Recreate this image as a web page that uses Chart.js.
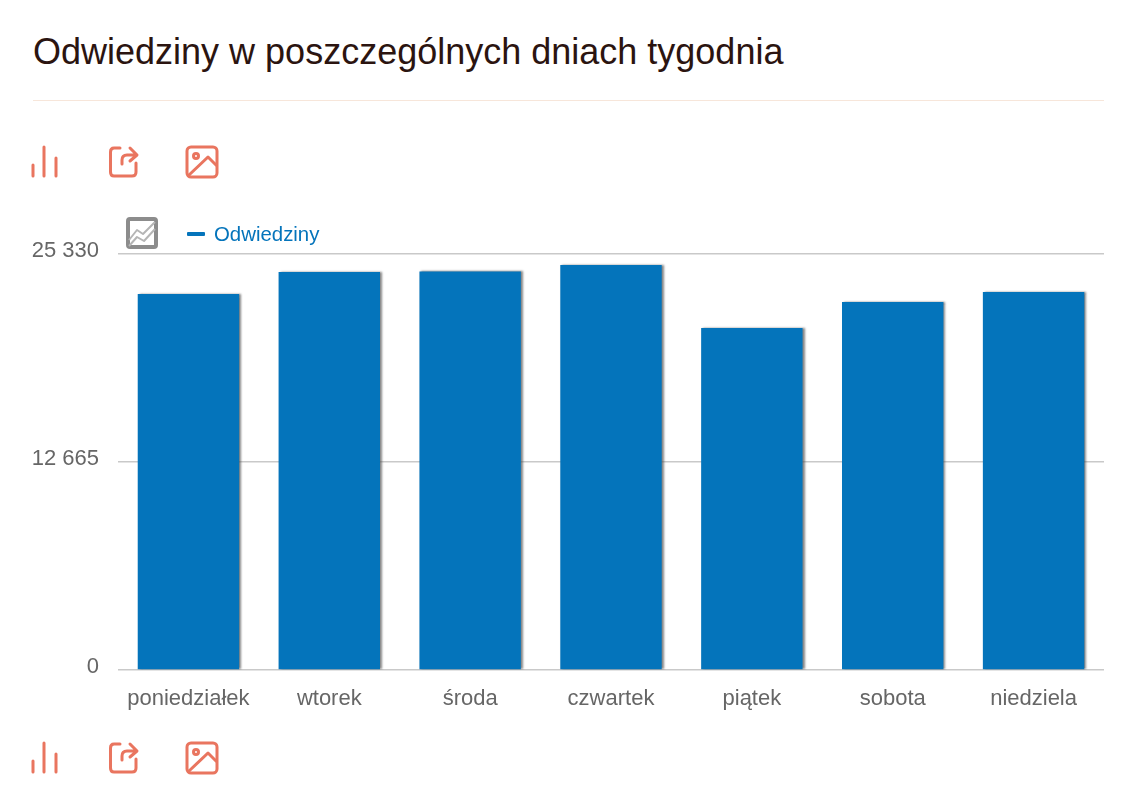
<!DOCTYPE html>
<html lang="pl">
<head>
<meta charset="utf-8">
<title>Odwiedziny w poszczególnych dniach tygodnia</title>
<script src="https://cdn.jsdelivr.net/npm/chart.js@4"></script>
<style>
  html, body { margin: 0; padding: 0; background: #fff; }
  body { width: 1134px; height: 796px; position: relative; overflow: hidden; font-family: "Liberation Sans", Arial, sans-serif; }
  h1 { position: absolute; left: 33px; top: 31px; margin: 0; font-size: 36px; line-height: 42px; font-weight: normal; color: #2b1410; white-space: nowrap; }
  .rule { position: absolute; left: 33px; top: 100px; width: 1071px; height: 1px; background: #f7e6da; }
  canvas { position: absolute; left: 0; top: 0; }
  .icons { position: absolute; left: 0; width: 240px; height: 40px; }
  .icons svg { position: absolute; left: 0; top: 0; fill: none; stroke: #e9755f; stroke-width: 3; stroke-linecap: round; stroke-linejoin: round; }
  .switch { position: absolute; left: 125px; top: 216px; fill: none; stroke: #8c8c8c; stroke-linejoin: round; }
  .legend { position: absolute; left: 187px; top: 222px; color: #0474bb; font-size: 20.400px; line-height: 24px; white-space: nowrap; }
  .legend i { display: inline-block; width: 18px; height: 4px; background: #0474bb; border-radius: 1px; vertical-align: 5px; margin-right: 9px; }
</style>
</head>
<body>
<h1>Odwiedziny w poszczególnych dniach tygodnia</h1>
<div class="rule"></div>

<div class="icons" style="top:141px">
  <svg width="240" height="40" viewBox="0 0 240 40">
    <path d="M33 24V35M44 6V35M56 17V35"/>
    <path d="M120 7H114Q110.500 7 110.500 11V31Q110.500 35 114 35H132Q136 35 136 31V22"/>
    <path d="M122 23V19Q122 14 127 14H136M130 7L137 14L130 20"/>
    <rect x="187" y="6" width="30" height="30" rx="4"/>
    <circle cx="196" cy="15" r="2.500"/>
    <path d="M189 34L208 16L216 24"/>
  </svg>
</div>
<div class="icons" style="top:737px">
  <svg width="240" height="40" viewBox="0 0 240 40">
    <path d="M33 24V35M44 6V35M56 17V35"/>
    <path d="M120 7H114Q110.500 7 110.500 11V31Q110.500 35 114 35H132Q136 35 136 31V22"/>
    <path d="M122 23V19Q122 14 127 14H136M130 7L137 14L130 20"/>
    <rect x="187" y="6" width="30" height="30" rx="4"/>
    <circle cx="196" cy="15" r="2.500"/>
    <path d="M189 34L208 16L216 24"/>
  </svg>
</div>

<canvas id="visitsChart" width="1134" height="796"></canvas>

<svg class="switch" width="34" height="34" viewBox="0 0 34 34">
  <rect x="3" y="3" width="28" height="28" rx="2" stroke-width="4"/>
  <path d="M4 24L12 14L18 18L30 6" stroke="#b5b5b5" stroke-width="2"/>
  <path d="M4 30L12 21L19 25L30 13" stroke="#b5b5b5" stroke-width="2"/>
</svg>
<div class="legend"><i></i>Odwiedziny</div>

<script>
const days = ['poniedziałek', 'wtorek', 'środa', 'czwartek', 'piątek', 'sobota', 'niedziela'];
const visits = [22890, 24230, 24270, 24660, 20820, 22410, 23020];
const yTicks = [0, 12665, 25330];

const BLUE = '#0474bb';

// lekki cień po prawej stronie słupków
const barShadow = {
    id: 'barShadow',
    beforeDatasetsDraw(chart) {
        const ctx = chart.ctx;
        ctx.save();
        ctx.shadowColor = 'rgba(70, 70, 70, 0.65)';
        ctx.shadowOffsetX = 2;
        ctx.shadowOffsetY = 0;
        ctx.shadowBlur = 2;
    },
    afterDatasetsDraw(chart) {
        chart.ctx.restore();
    }
};

new Chart(document.getElementById('visitsChart').getContext('2d'), {
    type: 'bar',
    data: {
        labels: days,
        datasets: [{
            label: 'Odwiedziny',
            data: visits,
            backgroundColor: BLUE,
            borderWidth: 0,
            categoryPercentage: 1,
            barPercentage: 0.72
        }]
    },
    plugins: [barShadow],
    options: {
        responsive: false,
        animation: false,
        layout: { padding: { top: 254, right: 30, left: 0, bottom: 0 } },
        plugins: {
            legend: { display: false },
            tooltip: { enabled: false }
        },
        scales: {
            x: {
                grid: { display: false },
                border: { display: false },
                afterFit(scale) { scale.height = 126; },
                ticks: {
                    color: '#666',
                    padding: 8,
                    maxRotation: 0,
                    autoSkip: false,
                    font: { family: '"Liberation Sans", Arial, sans-serif', size: 22 }
                }
            },
            y: {
                min: 0,
                max: 25330,
                afterBuildTicks(scale) { scale.ticks = yTicks.map(value => ({ value })); },
                afterFit(scale) { scale.width = 118; },
                grid: { color: '#c9c9c9', lineWidth: 1.5, drawTicks: false },
                border: { display: false },
                ticks: {
                    color: '#666',
                    padding: 19,
                    labelOffset: -3,
                    font: { family: '"Liberation Sans", Arial, sans-serif', size: 22 },
                    callback: value => String(value).replace(/\B(?=(\d{3})+$)/g, ' ')
                }
            }
        }
    }
});
</script>
</body>
</html>
